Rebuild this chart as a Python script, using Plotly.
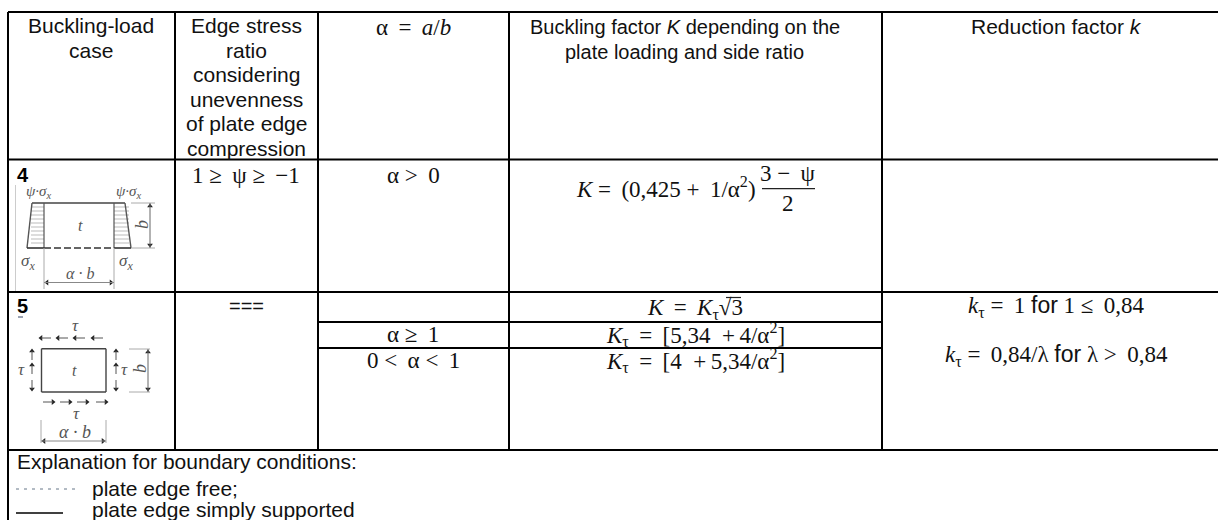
import plotly.graph_objects as go

T = "\u2009"  # thin space, Cambria sets its operators wider than Liberation Serif

# text of the table
header_case = ["Buckling-load", "case"]
header_ratio = ["Edge stress", "ratio", "considering", "unevenness", "of plate edge", "compression"]
header_alpha = f"α{T} = {T}<i>a</i>/<i>b</i>"
header_buckling = ["Buckling factor <i>K</i> depending on the", "plate loading and side ratio"]
header_reduction = "Reduction factor <i>k</i>"

case_numbers = ["<b>4</b>", "<b>5</b>"]
ratio_cells = [f"1 ≥ {T}ψ ≥ {T}−1", "==="]
alpha_cells = [f"α &gt; {T}0", f"α ≥ {T}1", f"0 &lt; {T}α &lt; {T}1"]
k_cells = [f"<i>K</i>{T} = {T}<i>K</i><sub>τ</sub>√3",
           f"<i>K</i><sub>τ</sub>{T} = {T}[5,34  +{T}4/α<sup>2</sup>]",
           f"<i>K</i><sub>τ</sub>{T} = {T}[4  +{T}5,34/α<sup>2</sup>]"]
k_fraction = [f"<i>K</i> = {T}(0,425 + {T}1/α<sup>2</sup>)", f"3 − {T}ψ", "2"]
reduction_cells = [f"<i>k</i><sub>τ</sub> = {T}1 <span style='font-family:Liberation Sans'>for</span> 1 ≤ {T}0,84",
                   f"<i>k</i><sub>τ</sub> = {T}0,84/λ <span style='font-family:Liberation Sans'>for</span> λ &gt; {T}0,84"]
notes = ["Explanation for boundary conditions:", "plate edge free;", "plate edge simply supported"]

# grid of the table, in pixels of the picture
col_lines = [8, 175, 318, 509, 882]
row_lines = [12, 159.5, 292, 450]
sub_rows = [322, 348]

SANS = "Liberation Sans"
SERIF = "Liberation Serif"
GREY = "#555555"
MATH = 23

fig = go.Figure()


def text(x, y, s, size=21, font=SANS, color="#111111", anchor="center", angle=0):
    fig.add_annotation(x=x, y=y, text=s, showarrow=False, xanchor=anchor, yanchor="middle",
                       textangle=angle, borderpad=0, font=dict(family=font, size=size, color=color))


def line(x0, y0, x1, y1, color="#000000", width=2, dash="solid"):
    fig.add_shape(type="line", x0=x0, y0=y0, x1=x1, y1=y1, line=dict(color=color, width=width, dash=dash))


def arrows(xs, ys, symbol):
    fig.add_trace(go.Scatter(x=xs, y=ys, mode="markers", hoverinfo="skip",
                             marker=dict(symbol=symbol, size=5, color="#222222", line_width=0)))


# table lines
line(col_lines[0], 12, col_lines[0], 520)
for x in col_lines[1:]:
    line(x, 12, x, 450)
for y in row_lines:
    line(8, y, 1218, y)
for y in sub_rows:
    line(318, y, 882, y)

# header row
for y, s in zip([25, 50], header_case):
    text(91, y, s)
for y, s in zip([25, 50, 74, 99, 123, 148], header_ratio):
    text(246, y, s)
text(413, 27, header_alpha, size=MATH, font=SERIF)
for y, s in zip([27, 52], header_buckling):
    text(684.5, y, s, size=20)
text(1056, 26, header_reduction)

# body
text(16, 175, case_numbers[0], anchor="left", color="#000000", size=20)
text(16, 306, case_numbers[1], anchor="left", color="#000000", size=20)
text(246, 175, ratio_cells[0], size=MATH, font=SERIF)
text(246, 306, ratio_cells[1], size=20)
for y, s in zip([175, 334, 360], alpha_cells):
    text(413, y, s, size=MATH, font=SERIF)
text(757, 187, k_fraction[0], size=MATH, font=SERIF, anchor="right")
text(788, 173, k_fraction[1], size=MATH, font=SERIF)
text(788, 203, k_fraction[2], size=MATH, font=SERIF)
line(762, 188.7, 815, 188.7, color="#222222", width=1.2)
for y, s in zip([309, 334, 360], k_cells):
    text(695, y, s, size=MATH, font=SERIF)
line(726, 297.5, 741, 297.5, color="#222222", width=1.2)
for y, s in zip([306, 355], reduction_cells):
    text(1056, y, s, size=MATH, font=SERIF)

# load case 4 sketch
line(15.5, 185, 15.5, 291, color="#cccccc", width=1)
line(8, 291.5, 157, 291.5, color="#000000", width=1)
for y in [207, 211, 215, 219, 223, 227, 231, 235, 239, 243]:
    line(31, y, 44, y, color="#aaaaaa", width=0.8)
    line(114, y, 129, y, color="#aaaaaa", width=0.8)
line(32, 203, 125, 203, color="#444444", width=1.6)
line(32, 203, 27, 248, color=GREY, width=1.4)
line(125, 203, 131, 248, color=GREY, width=1.4)
line(44, 203, 44, 248, color=GREY, width=1.2)
line(114, 203, 114, 248, color=GREY, width=1.2)
line(27, 248, 44, 248, color="#333333", width=1.6)
line(114, 248, 131, 248, color="#333333", width=1.6)
line(44, 248, 114, 248, color="#333333", width=1.6, dash="7px 3px")
line(44, 248, 44, 289, color="#aaaaaa", width=1)
line(114, 248, 114, 289, color="#aaaaaa", width=1)
line(44, 282.5, 114, 282.5, color="#888888", width=1)
line(131, 203, 155, 203, color="#aaaaaa", width=1)
line(131, 248, 155, 248, color="#aaaaaa", width=1)
line(150, 203, 150, 248, color="#666666", width=1)
arrows([47, 111], [282.5, 282.5], ["triangle-left", "triangle-right"])
arrows([150, 150], [206, 245], ["triangle-up", "triangle-down"])
text(38, 192, "<i>ψ·σ<sub>x</sub></i>", size=15, font=SERIF, color=GREY)
text(128, 192, "<i>ψ·σ<sub>x</sub></i>", size=15, font=SERIF, color=GREY)
text(28, 262, "<i>σ<sub>x</sub></i>", size=17, font=SERIF, color=GREY)
text(126, 262, "<i>σ<sub>x</sub></i>", size=17, font=SERIF, color=GREY)
text(80, 225, "<i>t</i>", size=16, font=SERIF, color=GREY)
text(142, 225, "<i>b</i>", size=18, font=SERIF, color=GREY, angle=-90)
text(80, 273, "<i>α · b</i>", size=16, font=SERIF, color=GREY)

# load case 5 sketch
line(18, 317, 23, 317, color="#334466", width=1)
line(41.5, 348.7, 106, 348.7, color="#444444", width=1.4)
line(41.5, 392, 106, 392, color="#444444", width=1.4)
line(41.5, 348.7, 41.5, 392, color="#444444", width=1.4)
line(106, 348.7, 106, 392, color="#444444", width=1.4)
for x in [41, 58, 75, 93]:
    line(x, 338, x + 10, 338, color="#555555", width=1)
for x in [43, 60, 77, 96]:
    line(x, 402, x + 10, 402, color="#555555", width=1)
for y in [351, 365, 380]:
    line(32, y, 32, y + 9, color="#555555", width=1)
    line(116, y, 116, y + 9, color="#555555", width=1)
arrows([41, 58, 75, 93], [338, 338, 338, 338], "triangle-left")
arrows([53, 70, 87, 106], [402, 402, 402, 402], "triangle-right")
arrows([32, 32, 32, 116, 116, 116], [351, 365, 389, 351, 365, 389],
       ["triangle-up", "triangle-up", "triangle-down", "triangle-up", "triangle-up", "triangle-down"])
line(129, 349, 150, 349, color="#aaaaaa", width=1)
line(129, 392, 150, 392, color="#aaaaaa", width=1)
line(148, 349, 148, 392, color="#666666", width=1)
arrows([148, 148], [352, 389], ["triangle-up", "triangle-down"])
line(41, 420, 41, 443, color="#aaaaaa", width=1)
line(106, 420, 106, 443, color="#aaaaaa", width=1)
line(41, 441, 106, 441, color="#888888", width=1)
arrows([44, 103], [441, 441], ["triangle-left", "triangle-right"])
text(75, 325, "<i>τ</i>", size=17, font=SERIF, color=GREY)
text(76, 413, "<i>τ</i>", size=17, font=SERIF, color=GREY)
text(21, 369, "<i>τ</i>", size=17, font=SERIF, color=GREY)
text(124, 369, "<i>τ</i>", size=17, font=SERIF, color=GREY)
text(74, 370, "<i>t</i>", size=16, font=SERIF, color=GREY)
text(140, 369, "<i>b</i>", size=18, font=SERIF, color=GREY, angle=-90)
text(75, 432, "<i>α · b</i>", size=18, font=SERIF, color=GREY)

# boundary conditions note
text(16, 461, notes[0], anchor="left")
text(91, 488, notes[1], anchor="left")
text(91, 509, notes[2], anchor="left")
line(16, 489, 78, 489, color="#667788", width=1, dash="3px 5px")
line(16, 513, 63, 513, color="#000000", width=1.4)

fig.update_layout(width=1218, height=520, margin=dict(l=0, r=0, t=0, b=0), showlegend=False,
                  paper_bgcolor="white", plot_bgcolor="white",
                  xaxis=dict(range=[0, 1218], visible=False, fixedrange=True),
                  yaxis=dict(range=[520, 0], visible=False, fixedrange=True))

fig.write_html("out.html", config={"displayModeBar": False},
               post_script="document.body.style.margin='0';document.body.style.overflow='hidden';")
